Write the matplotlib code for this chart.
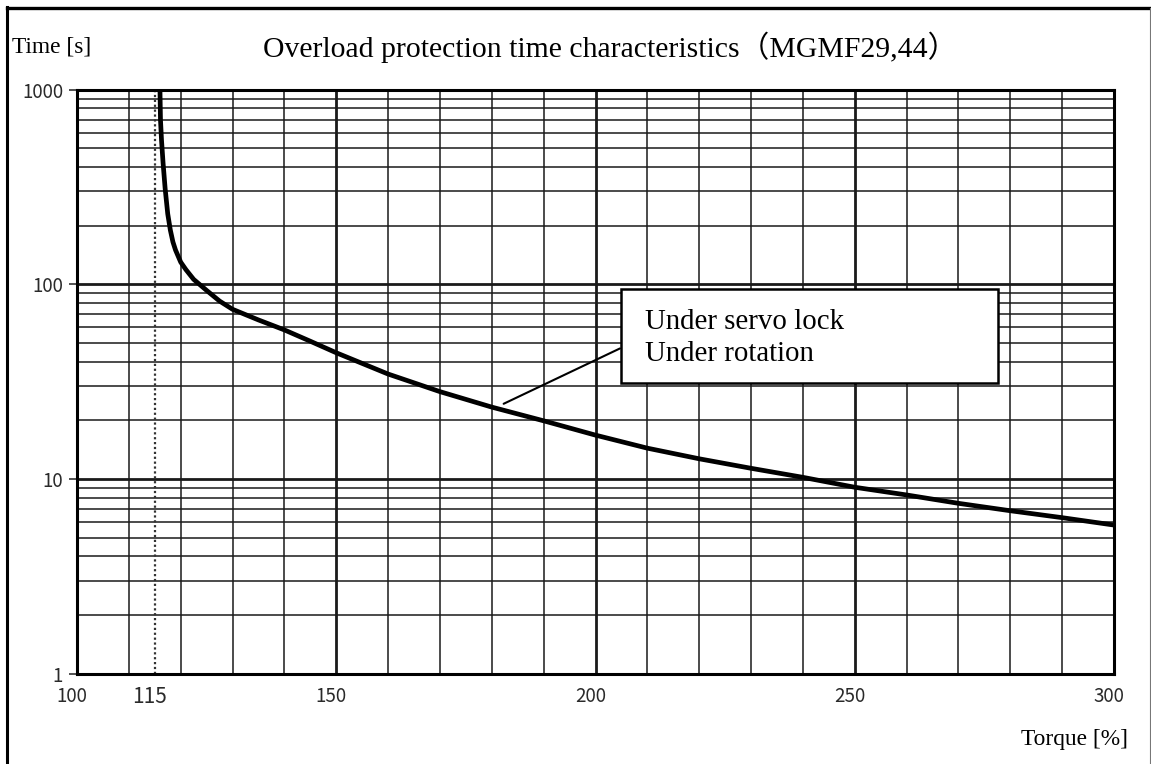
import matplotlib
matplotlib.use("Agg")
import matplotlib.pyplot as plt
import matplotlib.ticker as mticker
import matplotlib.transforms as mtransforms
from matplotlib.lines import Line2D
from matplotlib.patches import Rectangle

# Overload protection curve (torque in %, trip time in s)
torque = [116.0, 116.1, 116.3, 116.6, 117.0, 117.5, 118.0, 118.5, 119.0, 120, 121,
          122.5, 125, 127.5, 130, 135, 140, 145, 150, 160, 170, 180, 190, 200,
          210, 220, 230, 240, 250, 260, 270, 280, 290, 300]
time_s = [1000, 700, 550, 420, 310, 230, 190, 165, 150, 130, 119,
          106, 93, 82, 74.4, 65.6, 58.3, 51, 44.5, 34.6, 28.1, 23.4, 19.9, 16.8,
          14.4, 12.7, 11.35, 10.2, 9.07, 8.28, 7.5, 6.87, 6.33, 5.8]

rated_limit = 115
x_ticks = [100, 115, 150, 200, 250, 300]
x_tick_labels = ["100", "115", "150", "200", "250", "300"]
y_ticks = [1, 10, 100, 1000]
y_tick_labels = ["1", "10", "100", "1000"]
x_grid_minor = list(range(110, 300, 10))
x_grid_major = [150, 200, 250]
y_grid_minor = [m * d for d in (1, 10, 100) for m in range(2, 10)]
y_grid_major = [10, 100]

title = "Overload protection time characteristics（MGMF29,44）"
legend_lines = ["Under servo lock", "Under rotation"]

W, H = 1151, 764
fig = plt.figure(figsize=(W / 100, H / 100), dpi=100)
ax = fig.add_axes([77 / W, 1 - 673.7 / H, (1114 - 77) / W, (673.7 - 89.6) / H])
ax.set_xlim(100, 300)
ax.set_yscale("log")
ax.set_ylim(1, 1000)

grid_c = "#1a1a1a"
for gx in x_grid_minor:
    lw = 2.0 if gx in x_grid_major else 1.1
    ax.axvline(gx, color=grid_c, lw=lw, zorder=1)
for gy in y_grid_minor:
    ax.axhline(gy, color=grid_c, lw=1.1, zorder=1)
for gy in y_grid_major:
    ax.axhline(gy, color=grid_c, lw=2.0, zorder=1)

ax.axvline(rated_limit, color="#333333", lw=1.6, ls=(0, (1, 1.2)), zorder=2)
ax.plot(torque, time_s, color="black", lw=3.4, solid_capstyle="butt",
        solid_joinstyle="round", zorder=4)

for s in ax.spines.values():
    s.set_linewidth(2.2)
    s.set_color("black")

tick_font = dict(family=["Noto Sans CJK JP", "DejaVu Sans"], size=13.5, color="#2a2a2a")
ax.set_xticks(x_ticks)
ax.set_xticklabels(x_tick_labels, **tick_font)
ax.set_yticks(y_ticks)
ax.set_yticklabels(y_tick_labels, **tick_font)
ax.yaxis.set_minor_locator(mticker.NullLocator())
ax.xaxis.set_minor_locator(mticker.NullLocator())
ax.tick_params(axis="x", length=0, pad=9)
ax.tick_params(axis="y", length=6, width=1.2, pad=4, color="#333333")
shift = mtransforms.ScaledTranslation(-5 / 100, 0, fig.dpi_scale_trans)
for lab in ax.get_xticklabels():
    lab.set_transform(lab.get_transform() + shift)
    if lab.get_text() == "115":
        lab.set_fontsize(15)

# label box with leader line
box = Rectangle((0.525, 0.497), 0.363, 0.161, transform=ax.transAxes,
                facecolor="white", edgecolor="black", lw=1.8, zorder=6)
ax.add_patch(box)
ax.annotate("", xy=(181.8, 24.0), xytext=(205.2, 47.5),
            arrowprops=dict(arrowstyle="-", color="black", lw=1.5), zorder=5)
serif = ["Liberation Serif", "Noto Sans CJK JP"]
for line, base_px in zip(legend_lines, (329, 361)):
    fig.text(645 / W, 1 - base_px / H, line, family=serif, fontsize=20.8,
             ha="left", va="baseline", zorder=7)

fig.text(263 / W, 1 - 56.7 / H, title, family=serif, fontsize=21.4,
         ha="left", va="baseline")
fig.text(12.5 / W, 1 - 52 / H, "Time [s]", family=serif, fontsize=16.8,
         ha="left", va="baseline")
fig.text(1128 / W, 1 - 745 / H, "Torque [%]", family=serif, fontsize=16.8,
         ha="right", va="baseline")

# page frame
fig.add_artist(Line2D([7 / W, 7 / W], [0, 1 - 7 / H], transform=fig.transFigure,
                      color="black", lw=2.2))
fig.add_artist(Line2D([7 / W, 1149.5 / W], [1 - 7.5 / H, 1 - 7.5 / H],
                      transform=fig.transFigure, color="black", lw=2.4))
fig.add_artist(Line2D([1149.5 / W, 1149.5 / W], [0, 1 - 7.5 / H],
                      transform=fig.transFigure, color="#777777", lw=0.8))

fig.savefig("out.png", dpi=100, facecolor="white")
